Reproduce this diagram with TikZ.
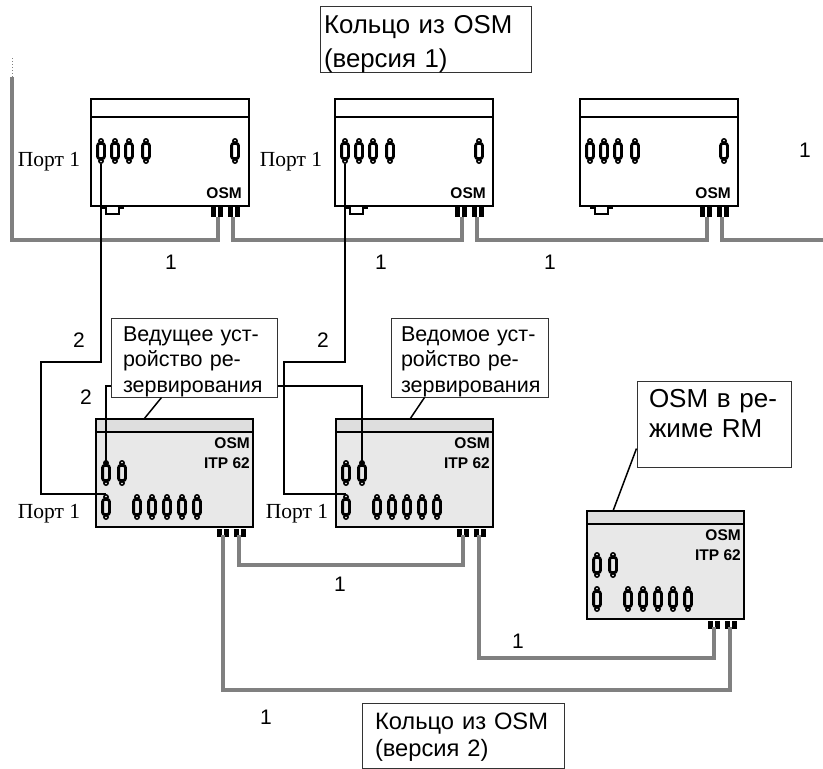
\documentclass[tikz,border=0pt]{standalone}
\usepackage{fontspec}
\setmainfont{Liberation Serif}
\newfontfamily\labelfont{Liberation Sans}
\usetikzlibrary{positioning,calc}
\definecolor{cablegray}{RGB}{128,128,128}
\definecolor{panel}{RGB}{232,232,232}
\definecolor{panelhead}{RGB}{222,222,222}
\tikzset{
  cable/.style={draw=cablegray,line width=4.5pt},
  patch/.style={draw=black,line width=1.8pt},
  notebox/.style={draw=black!80,fill=white,line width=1pt,inner sep=0pt,align=left,
    font=\labelfont\fontsize{21.5}{25.5}\selectfont},
  numlabel/.style={font=\labelfont\fontsize{21}{24}\selectfont,inner sep=0pt},
  portlabel/.style={font=\fontsize{21.5}{24}\selectfont,inner sep=0pt},
  devlabel/.style={font=\labelfont\bfseries\fontsize{15.5}{18}\selectfont,inner sep=0pt,anchor=east},
  % pictograms
  pics/dsub/.style={code={
    \fill[black] (0,-10) circle (3);
    \fill[black] (0,10) circle (3);
    \filldraw[fill=#1,draw=black,line width=2.8pt,rounded corners=2pt] (-3.4,-7.5) rectangle (3.4,7.5);
    \fill[white] (0,-10.5) circle (0.9);
    \fill[white] (0,10.5) circle (0.9);
  }},
  pics/dsub/.default=white,
  pics/ringports/.style={code={
    \foreach \x in {0,7,17,24} \fill[black] (\x,0) rectangle ++(5,#1);
  }},
  pics/osm/.style={code={
    \filldraw[fill=white,draw=black,line width=2pt] (0,0) rectangle (158,107);
    \draw[black,line width=2.2pt] (0,18) -- (158,18);
    \foreach \x in {10,24,38,55,144} \pic at (\x,52) {dsub};
    \node[devlabel] (-name) at (151,94) {OSM};
    \pic at (120,107) {ringports=11};
    % small socket under the case
    \fill[black] (10,107) rectangle (33,110);
    \draw[black,line width=1.6pt,fill=white] (15,107) rectangle (28,115);
    \coordinate (-port1) at (10,65);
    \coordinate (-ringa) at (127,118);
    \coordinate (-ringb) at (142,118);
  }},
  pics/itp/.style={code={
    \filldraw[fill=panel,draw=black,line width=2pt] (0,0) rectangle (157,108);
    \filldraw[fill=panelhead,draw=black,line width=2pt] (0,0) rectangle (157,13);
    \foreach \x in {10,26} \pic at (\x,54) {dsub=panel};
    \foreach \x in {10,41,56,71,86,101} \pic at (\x,88) {dsub=panel};
    \node[devlabel] (-name) at (154,24) {OSM};
    \node[devlabel] (-type) at (154,44) {ITP 62};
    \pic at (121,110) {ringports=8};
    \coordinate (-port1) at (10,75);
    \coordinate (-port2) at (10,46);
    \coordinate (-port3) at (26,46);
    \coordinate (-ringa) at (127,116);
    \coordinate (-ringb) at (143,116);
  }},
}
\begin{document}
\begin{tikzpicture}[x=1pt,y=-1pt]
  \useasboundingbox (0,0) rectangle (823,769);
  \coordinate (busend) at (823,240);
  \coordinate (bustop) at (12,77);
  \coordinate (busdots) at (12,58);
  % gray ring cables first, the cases sit on them
  \draw[cablegray,line width=1pt,dotted] (busdots) -- (bustop);
  \pic (topA) at (91,99) {osm};
  \pic (topB) at (335,99) {osm};
  \pic (topC) at (580,99) {osm};
  \pic (itpA) at (96,419) {itp};
  \pic (itpB) at (336,419) {itp};
  \pic (itpC) at (587,511) {itp};
  \draw[cable] (bustop) -- (12,240) -| (topA-ringa);
  \draw[cable] (topA-ringb) -- ++(0,23) -| (topB-ringa);
  \draw[cable] (topB-ringb) -- ++(0,23) -| (topC-ringa);
  \draw[cable] (topC-ringb) -- ++(0,23) -- (busend);
  \draw[cable] (itpA-ringb) -- ++(0,30) -| (itpB-ringa);
  \draw[cable] (itpB-ringb) -- ++(0,123) -| (itpC-ringa);
  \draw[cable] (itpA-ringa) -- ++(0,155) -| (itpC-ringb);
  % patch lines
  \draw[patch] (topA-port1) |- (41,362) |- (itpA-port1);
  \draw[patch] (topB-port1) |- (284,362) |- (itpB-port1);
  \draw[patch] (itpA-port2) -- ++(0,-79) -| (itpB-port3);
  % notes
  \node[notebox,minimum width=211,minimum height=65,text width=203,text height=27,
    font=\labelfont\fontsize{25.8}{34}\selectfont] (ringone) at (425.5,39.5) {Кольцо из OSM\\(версия 1)};
  \node[notebox,minimum width=166,minimum height=79,text width=142,text height=23] (noteA) at (194,357.5) {Ведущее уст-\\ройство ре-\\зервирования};
  \node[notebox,minimum width=157,minimum height=79,text width=137,text height=23] (noteB) at (469.5,357.5) {Ведомое уст-\\ройство ре-\\зервирования};
  \node[notebox,minimum width=154,minimum height=86,text width=130,text depth=52,
    font=\labelfont\fontsize{26}{30}\selectfont] (noteC) at (714,424) {OSM в ре-\\жиме RM};
  \node[notebox,minimum width=202,minimum height=65,text width=176,text height=20,
    font=\labelfont\fontsize{23.7}{27}\selectfont] (ringtwo) at (463,735.5) {Кольцо из OSM\\(версия 2)};
  \draw[black,line width=1.5pt] (noteA.south west) ++(51,0) -- ($(itpA-port1)+(38,-75)$);
  \draw[black,line width=1.5pt] (noteB.south west) ++(34,0) -- ($(itpB-port1)+(64,-75)$);
  \draw[black,line width=1.5pt] (noteC.south west) ++(0,-19) -- ($(itpC-port1)+(16,-75)$);
  % labels
  \foreach \x/\y/\t [count=\i] in {805/150/1,171/262/1,381/262/1,550/262/1,340/584/1,518/641/1,266/717/1,79/340/2,323/340/2,86/397/2}
    \node[numlabel] (num\i) at (\x,\y) {\t};
  \foreach \x/\y [count=\i] in {49/162,291/162,49/514,297/514}
    \node[portlabel] (portlabel\i) at (\x,\y) {Порт 1};
\end{tikzpicture}
\end{document}
